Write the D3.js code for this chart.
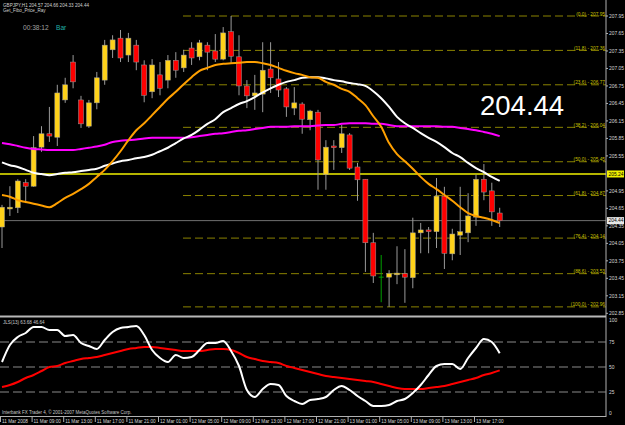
<!DOCTYPE html>
<html><head><meta charset="utf-8">
<script src="https://cdn.jsdelivr.net/npm/d3@7"></script>
<style>body{margin:0;background:#000;}svg{display:block;}text{font-family:"Liberation Sans",Arial,sans-serif;}</style>
</head><body><svg id="c" width="625" height="425"></svg>
<script>
// ---- data (H1 bars, 11 Mar 05:00 .. 13 Mar 20:00) ----
const opens  = [204.33,204.64,204.66,205.09,205.03,205.70,205.93,205.87,206.51,207.16,206.51,206.06,206.46,206.85,207.37,207.57,207.28,207.45,207.11,206.65,206.94,206.85,207.19,207.06,207.40,207.25,207.45,207.35,207.21,207.68,207.25,206.75,206.58,206.61,207.04,206.87,206.70,206.37,206.44,206.17,206.30,205.23,205.72,205.69,205.91,205.36,205.15,204.06,203.47,203.47,203.51,203.53,203.46,204.23,204.28,204.25,204.86,203.87,204.19,204.23,204.50,205.15,204.95,204.57];
const highs  = [204.71,205.03,205.15,205.15,205.89,206.06,206.39,206.77,206.89,207.28,206.58,206.51,206.99,207.54,207.62,207.71,207.66,207.54,207.19,207.21,207.16,207.28,207.33,207.37,207.50,207.54,207.50,207.64,207.76,207.95,207.62,206.85,206.94,207.50,207.50,207.16,206.73,206.73,206.47,206.34,206.34,205.82,205.82,206.08,205.94,205.43,205.15,204.23,203.85,203.59,204.00,203.95,204.49,204.40,204.33,205.17,205.02,204.30,205.02,204.91,205.23,205.41,205.09,204.66];
const lows   = [203.97,204.52,204.57,204.74,205.02,205.62,205.79,205.72,206.46,206.71,206.03,206.03,206.35,206.77,207.23,207.16,207.16,207.02,206.47,206.54,206.59,206.71,206.89,206.99,207.11,207.19,207.02,207.16,207.19,207.14,206.59,206.37,206.34,206.30,206.63,206.56,206.22,206.25,205.93,205.99,204.97,204.97,205.31,205.60,205.31,204.78,203.56,203.37,203.04,202.96,203.35,203.03,203.28,203.88,203.88,203.97,203.61,203.76,203.85,204.07,204.35,204.79,204.35,204.33];
const closes = [204.67,204.67,205.12,205.03,205.69,205.93,205.89,206.63,206.77,206.82,206.10,206.46,206.89,207.45,207.54,207.23,207.57,207.16,206.59,207.11,206.71,207.19,207.02,207.28,207.23,207.49,207.33,207.21,207.66,207.26,206.75,206.58,206.63,207.02,206.89,206.68,206.39,206.46,206.18,206.32,205.48,205.70,205.69,205.93,205.34,205.14,204.06,203.49,203.47,203.53,203.54,203.47,204.23,204.28,204.25,204.86,203.88,204.21,204.25,204.52,205.15,204.93,204.59,204.44];
const maFast = [204.88,204.85,204.79,204.76,204.73,204.70,204.67,204.74,204.83,204.90,204.98,205.07,205.19,205.31,205.46,205.63,205.82,205.99,206.11,206.25,206.39,206.53,206.65,206.78,206.90,207.01,207.06,207.11,207.13,207.14,207.15,207.16,207.16,207.14,207.11,207.06,207.01,206.97,206.94,206.90,206.89,206.82,206.77,206.70,206.65,206.54,206.42,206.23,206.05,205.77,205.58,205.46,205.33,205.19,205.07,204.98,204.88,204.78,204.67,204.57,204.52,204.49,204.45,204.40];
const maMid  = [205.44,205.39,205.36,205.31,205.26,205.24,205.22,205.24,205.26,205.27,205.29,205.31,205.33,205.38,205.42,205.46,205.48,205.51,205.53,205.57,205.63,205.69,205.77,205.85,205.91,206.00,206.10,206.18,206.30,206.37,206.44,206.49,206.56,206.64,206.71,206.77,206.82,206.85,206.89,206.90,206.90,206.88,206.85,206.83,206.80,206.78,206.75,206.66,206.54,206.39,206.22,206.11,206.03,205.94,205.86,205.79,205.70,205.60,205.53,205.43,205.34,205.27,205.19,205.12];
const maSlow = [205.77,205.75,205.72,205.69,205.67,205.66,205.65,205.65,205.65,205.65,205.67,205.69,205.71,205.74,205.79,205.81,205.82,205.83,205.85,205.86,205.86,205.86,205.86,205.86,205.87,205.89,205.91,205.93,205.94,205.96,205.98,205.99,206.01,206.03,206.05,206.05,206.05,206.06,206.06,206.06,206.07,206.08,206.08,206.10,206.11,206.11,206.11,206.10,206.10,206.08,206.06,206.06,206.06,206.06,206.06,206.06,206.05,206.05,206.03,206.01,205.99,205.96,205.93,205.89];
const oscFast = [55,72,80,84,90,90,87,87,81,82,74,71,68,77,85,89,90,91,82,67,59,55,62,59,60,67,74,74,76,66,51,27,20,28,33,32,21,16,13,17,18,20,27,31,27,21,16,11,11,12,16,18,24,32,42,51,53,53,48,59,69,78,75,63.68];
const oscSlow = [30,32,35,39,42,46,50,51,54,56,58,59,60,62,64,66,68,69,70,70,69,68,67,66,66,66,67,68,68,67,64,60,58,56,55,54,51,49,47,45,43,41,40,39,38,37,36,35,33,31,29,28,28,28,29,30,31,33,35,37,39,42,44,46.64];
const timeLabels = ["11 Mar 2008","11 Mar 09:00","11 Mar 13:00","11 Mar 17:00","11 Mar 21:00","12 Mar 01:00","12 Mar 05:00","12 Mar 09:00","12 Mar 13:00","12 Mar 17:00","12 Mar 21:00","13 Mar 01:00","13 Mar 05:00","13 Mar 09:00","13 Mar 13:00","13 Mar 17:00"];
const priceTicks = [207.95,207.65,207.35,207.05,206.75,206.45,206.15,205.85,205.55,204.95,204.65,204.35,204.05,203.75,203.45,203.15,202.85];
const fibLevels = [0.0,11.8,23.6,38.2,50.0,61.8,76.4,88.6,100.0];
const fibPrices = [207.95,207.36,206.77,206.04,205.45,204.87,204.14,203.53,202.96];
const oscTicks = [100,75,50,25,0];
const oscGrid = [75,50,25];
const hLinePrice = 205.24, bidPrice = 204.44;
const symbolHeader = "GBPJPY,H1  204.57 204.66 204.33 204.44";
const oscHeader = "JLS(13) 63.68 46.64";

// ---- drawing ----
const svg = d3.select('#c');
svg.append('rect').attr('width',625).attr('height',425).attr('fill','#000');
const AX = 606;
const x = d3.scaleLinear().domain([0,63]).range([2,499.7]);
const y = d3.scaleLinear().domain([202.85,207.95]).range([313.3,16]);
const yo = d3.scaleLinear().domain([0,100]).range([417,317]);

const defs = svg.append('defs');
defs.append('clipPath').attr('id','mc').append('rect').attr('x',0).attr('y',0).attr('width',AX).attr('height',316);
defs.append('clipPath').attr('id','oc').append('rect').attr('x',0).attr('y',318).attr('width',AX).attr('height',99);

const main = svg.append('g').attr('clip-path','url(#mc)');
// fib lines
fibPrices.forEach((p,i)=>{
  main.append('line').attr('x1',183).attr('x2',AX).attr('y1',y(p)).attr('y2',y(p))
    .attr('stroke','#8a8200').attr('stroke-width',1).attr('stroke-dasharray','8,4');
  main.append('text').attr('x',605).attr('y',y(p)-0.5).attr('text-anchor','end')
    .attr('font-size',4.8).attr('fill','#c8c000').text('('+fibLevels[i].toFixed(1)+') - '+p.toFixed(2));
});
// horizontal line & bid line
main.append('line').attr('x1',0).attr('x2',AX).attr('y1',y(hLinePrice)).attr('y2',y(hLinePrice)).attr('stroke','#f0f000').attr('stroke-width',1.6);
main.append('line').attr('x1',0).attr('x2',AX).attr('y1',y(bidPrice)).attr('y2',y(bidPrice)).attr('stroke','#707070').attr('stroke-width',1);

// candles
const idx = d3.range(opens.length);
const cw = 5;
idx.forEach(i=>{
  const o=opens[i],c=closes[i],h=highs[i],l=lows[i];
  const cx = x(i);
  const doji = Math.abs(o-c)<0.005;
  const col = doji ? '#00a000' : (c>=o ? '#ffd21a' : '#ff0000');
  main.append('line').attr('x1',cx).attr('x2',cx).attr('y1',y(h)).attr('y2',y(l))
    .attr('stroke', doji ? '#00a000' : '#9a9a9a').attr('stroke-width',1);
  if(doji){
    main.append('line').attr('x1',cx-2.5).attr('x2',cx+2.5).attr('y1',y(o)).attr('y2',y(o)).attr('stroke','#00a000').attr('stroke-width',1);
  } else {
    const top=y(Math.max(o,c)), bot=y(Math.min(o,c));
    main.append('rect').attr('x',cx-cw/2).attr('y',top).attr('width',cw).attr('height',Math.max(1.5,bot-top))
      .attr('fill',col).attr('stroke','#9a9a9a').attr('stroke-width',0.5);
  }
});
// MAs
const line = arr => d3.line().x((d,i)=>x(i)).y(d=>y(d)).curve(d3.curveMonotoneX)(arr);
main.append('path').attr('d',line(maSlow)).attr('fill','none').attr('stroke','#ff00ff').attr('stroke-width',2);
main.append('path').attr('d',line(maMid)).attr('fill','none').attr('stroke','#ffffff').attr('stroke-width',2);
main.append('path').attr('d',line(maFast)).attr('fill','none').attr('stroke','#ffa000').attr('stroke-width',2);

// big price
svg.append('text').attr('x',480).attr('y',115).attr('font-size',27.5).attr('fill','#ffffff').text(bidPrice.toFixed(2));

// headers
svg.append('text').attr('x',3).attr('y',6.5).attr('font-size',4.6).attr('fill','#d0d0d0').text(symbolHeader);
svg.append('text').attr('x',3).attr('y',12).attr('font-size',4.6).attr('fill','#d0d0d0').text('Get_Fibo_Price_Ray');
svg.append('text').attr('x',23).attr('y',30).attr('font-size',6.6).attr('fill','#a0a0a0').text('00:38:12');
svg.append('text').attr('x',56).attr('y',30).attr('font-size',6.6).attr('fill','#20b0a8').text('Bar');

// price axis
svg.append('line').attr('x1',AX).attr('x2',AX).attr('y1',0).attr('y2',417).attr('stroke','#b0b0b0').attr('stroke-width',1);
priceTicks.forEach(p=>{
  svg.append('line').attr('x1',AX).attr('x2',AX+2).attr('y1',y(p)).attr('y2',y(p)).attr('stroke','#b0b0b0');
  svg.append('text').attr('x',AX+3).attr('y',y(p)+1.8).attr('font-size',4.9).attr('fill','#d8d8d8').text(p.toFixed(2));
});
[[hLinePrice,'#f0f000'],[bidPrice,'#e8e8e8']].forEach(([p,bg])=>{
  svg.append('rect').attr('x',AX+1).attr('y',y(p)-3.5).attr('width',17).attr('height',7).attr('fill',bg);
  svg.append('text').attr('x',AX+2.5).attr('y',y(p)+1.8).attr('font-size',4.9).attr('fill','#000').text(p.toFixed(2));
});

// window separator
svg.append('line').attr('x1',0).attr('x2',AX).attr('y1',316.5).attr('y2',316.5).attr('stroke','#b8b8b8').attr('stroke-width',2);

// oscillator
const osc = svg.append('g').attr('clip-path','url(#oc)');
oscGrid.forEach(v=>{
  osc.append('line').attr('x1',0).attr('x2',AX).attr('y1',yo(v)).attr('y2',yo(v)).attr('stroke','#8a8a8a').attr('stroke-dasharray','9,4');
});
const oline = arr => d3.line().x((d,i)=>x(i)).y(d=>yo(d)).curve(d3.curveMonotoneX)(arr);
osc.append('path').attr('d',oline(oscSlow)).attr('fill','none').attr('stroke','#ff0000').attr('stroke-width',2);
osc.append('path').attr('d',oline(oscFast)).attr('fill','none').attr('stroke','#ffffff').attr('stroke-width',2);
svg.append('text').attr('x',3).attr('y',323.5).attr('font-size',4.6).attr('fill','#c8c8c8').text(oscHeader);
oscTicks.forEach(v=>{
  const yy = v===100 ? 320 : (v===0 ? 413 : yo(v));
  svg.append('text').attr('x',AX+3).attr('y',yy+1.8).attr('font-size',4.9).attr('fill','#d8d8d8').text(v);
});

// time axis
svg.append('line').attr('x1',0).attr('x2',AX).attr('y1',416.5).attr('y2',416.5).attr('stroke','#b0b0b0');
timeLabels.forEach((t,i)=>{
  const bx = x(i*4)-1.5;
  svg.append('line').attr('x1',bx).attr('x2',bx).attr('y1',417).attr('y2',422).attr('stroke','#b0b0b0');
  svg.append('text').attr('x',bx+1.5).attr('y',422.5).attr('font-size',4.7).attr('fill','#d8d8d8').text(t);
});
svg.append('text').attr('x',2).attr('y',413.5).attr('font-size',4.5).attr('fill','#c8c8c8').text('Interbank FX Trader 4, \u00a9 2001-2007 MetaQuotes Software Corp.');
</script></body></html>
